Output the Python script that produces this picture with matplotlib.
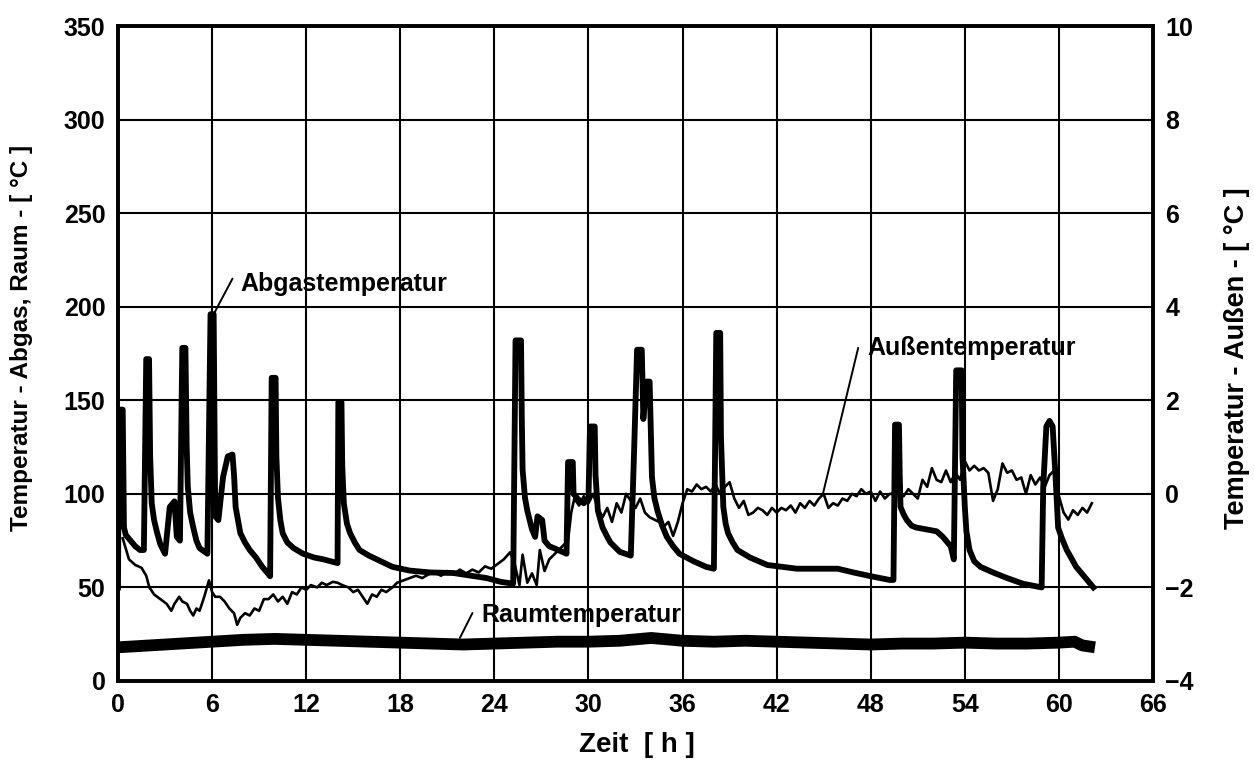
import matplotlib
matplotlib.use("Agg")
import matplotlib.pyplot as plt

plt.rcParams['font.family'] = ['Liberation Sans', 'DejaVu Sans']
plt.rcParams['font.weight'] = 'bold'

# ---------------- data ----------------
abgas_t = [0.0, 0.05, 0.3, 0.38, 0.5, 0.8, 1.1, 1.4, 1.65, 1.8, 1.98,
           2.05, 2.15, 2.3, 2.5, 2.7, 3.0,
           3.3, 3.6, 3.75, 3.95, 4.1, 4.3,
           4.38, 4.45, 4.6, 4.8, 5.0, 5.2, 5.7, 5.9, 6.1,
           6.2, 6.4, 6.7, 7.0, 7.3, 7.4, 7.5, 7.8, 8.1, 8.4, 8.8, 9.2, 9.7, 9.8, 10.05,
           10.1, 10.2, 10.35, 10.5, 10.8, 11.2, 11.8, 12.5, 13.1, 14.0, 14.05, 14.25,
           14.3, 14.4, 14.6, 14.8, 15.1, 15.4, 16.0, 16.5, 17.5, 18.6, 19.9,
           21.4, 23.5, 24.4, 25.2, 25.35, 25.7,
           25.75, 25.8, 25.95, 26.1, 26.4, 26.6, 26.75, 27.05, 27.2, 27.5, 27.8, 28.6,
           28.7, 29.0, 29.05, 29.35, 29.7, 30.0, 30.1, 30.4,
           30.45, 30.6, 30.9, 31.2, 31.4, 32.0, 32.7, 32.9, 33.1, 33.4, 33.5, 33.7, 33.9,
           34.0, 34.05, 34.2, 34.4, 34.7, 35.0, 35.4, 35.8, 36.7, 37.5, 38.0, 38.15, 38.4,
           38.45, 38.6, 38.75, 38.9, 39.2, 39.5, 40.3, 41.4, 43.3, 45.9, 46.9, 48.0, 49.2,
           49.45, 49.55, 49.8,
           49.85, 49.9, 50.1, 50.3, 50.6, 50.9, 52.2, 52.6, 53.1, 53.3, 53.45, 53.8,
           53.85, 54.0, 54.1, 54.3, 54.6, 55.0, 55.8, 56.7, 57.7, 58.9,
           59.0, 59.2, 59.4, 59.6, 59.8, 59.95, 60.2, 60.5, 61.1, 61.8, 62.2]
abgas_v = [50, 145, 145, 82, 78, 75, 72, 70, 70, 172, 172,
           120, 95, 86, 79, 73, 68,
           93, 96, 77, 75, 178, 178,
           125, 104, 90, 82, 75, 71, 68, 196, 196,
           88, 86, 109, 120, 121, 110, 93, 79, 74, 70, 66, 61, 56, 162, 162,
           120, 98, 86, 79, 74, 71, 68, 66, 65, 63, 149, 149,
           115, 95, 84, 79, 74, 70, 67, 65, 61, 59, 58,
           57.7, 55, 53, 52, 182, 182,
           140, 113, 98, 91, 81, 77, 88, 86, 75, 72, 71, 68,
           117, 117, 100, 97, 95, 97, 136, 136,
           110, 91, 82, 77, 74, 69, 67, 120, 177, 177, 140, 160, 160,
           125, 109, 98, 91, 83, 77, 72, 68, 64, 61, 60, 186, 186,
           130, 93, 84, 79, 74, 70, 66, 62, 60, 60, 58, 56, 54,
           54, 137, 137,
           110, 93, 89, 86, 83, 82, 80, 77, 72, 65, 166, 166,
           120, 93, 80, 70, 64, 61, 58, 55, 52, 50,
           104, 136, 139, 136, 107, 82, 76, 70, 61, 54, 50]

aussen_t = [0.3, 0.7, 1.1, 1.5, 1.8, 2.0, 2.3, 2.7, 3.1, 3.4, 3.6, 3.9, 4.1, 4.4, 4.6, 4.8,
            5.0, 5.2, 5.5, 5.8, 6.0, 6.2, 6.5, 6.8, 7.1, 7.4, 7.6, 7.8, 8.1, 8.4, 8.7, 9.0,
            9.3, 9.6, 9.9, 10.2, 10.5, 10.8, 11.1, 11.4, 11.7, 12.0, 12.3, 12.7, 13.0, 13.3,
            13.7, 14.0, 14.3, 14.7, 15.0, 15.3, 15.6, 15.9, 16.2, 16.5, 16.8, 17.1, 17.5,
            17.8, 18.2, 18.6, 19.0, 19.4, 19.8, 20.2, 20.6, 21.0, 21.4, 21.8, 22.2, 22.6,
            23.0, 23.4, 23.8, 24.2, 24.6, 25.0, 25.3, 25.6, 25.8, 26.1, 26.4, 26.7, 26.9,
            27.2, 27.5, 27.8, 28.1, 28.4, 28.7, 28.9, 29.1, 29.4, 29.7, 30.0, 30.3, 30.6,
            30.9, 31.2, 31.5, 31.8, 32.1, 32.4, 32.7, 33.0, 33.3, 33.6, 33.9, 34.2, 34.5,
            34.8, 35.1, 35.4, 35.7, 36.0, 36.3, 36.6, 36.9, 37.2, 37.5, 37.8, 38.1, 38.4,
            38.7, 39.0, 39.3, 39.6, 39.9, 40.2, 40.5, 40.8, 41.1, 41.4, 41.7, 42.0, 42.3,
            42.6, 42.9, 43.2, 43.5, 43.8, 44.1, 44.4, 44.7, 45.0, 45.3, 45.6, 45.9, 46.2,
            46.5, 46.8, 47.1, 47.4, 47.7, 48.0, 48.3, 48.6, 48.9, 49.2, 49.5, 49.8, 50.1,
            50.4, 50.7, 51.0, 51.3, 51.6, 51.9, 52.2, 52.5, 52.8, 53.1, 53.4, 53.7, 54.0,
            54.3, 54.6, 54.9, 55.2, 55.5, 55.8, 56.1, 56.4, 56.7, 57.0, 57.3, 57.6, 57.9,
            58.2, 58.5, 58.8, 59.1, 59.4, 59.7, 60.0, 60.3, 60.6, 60.9, 61.2, 61.5, 61.8, 62.1]
aussen_v = [-0.95, -1.4, -1.52, -1.58, -1.75, -2.0, -2.15, -2.25, -2.35, -2.5, -2.35, -2.2,
            -2.3, -2.35, -2.5, -2.6, -2.45, -2.5, -2.2, -1.85, -2.1, -2.2, -2.2, -2.3, -2.45,
            -2.55, -2.8, -2.65, -2.55, -2.6, -2.45, -2.5, -2.25, -2.25, -2.15, -2.3, -2.2,
            -2.35, -2.1, -2.15, -2.0, -2.05, -1.95, -2.0, -1.9, -1.95, -1.88, -1.9, -1.95,
            -2.0, -2.1, -2.05, -2.2, -2.35, -2.15, -2.2, -2.05, -2.1, -2.0, -1.9, -1.85,
            -1.8, -1.75, -1.8, -1.72, -1.68, -1.75, -1.65, -1.72, -1.62, -1.7, -1.62, -1.68,
            -1.55, -1.6, -1.5, -1.4, -1.25, -1.5, -1.95, -1.3, -1.9, -1.7, -1.95, -1.2,
            -1.65, -1.4, -1.3, -1.2, -1.1, -1.0, -0.4, -0.1, -0.25, -0.05, -0.2, 0.0, -0.3,
            -0.5, -0.3, -0.6, -0.2, -0.4, 0.0, -0.15, -0.3, -0.1, -0.4, -0.5, -0.55, -0.6,
            -0.7, -0.6, -0.9, -0.6, -0.2, 0.1, 0.05, 0.2, 0.1, 0.15, 0.05, 0.2, 0.0,
            0.15, 0.25, -0.1, -0.3, -0.15, -0.45, -0.4, -0.3, -0.35, -0.45, -0.3, -0.4, -0.3,
            -0.35, -0.25, -0.4, -0.2, -0.3, -0.15, -0.25, -0.1, 0.0, -0.3, -0.2, -0.25, -0.1,
            -0.15, 0.0, -0.05, 0.1, 0.0, 0.05, -0.15, 0.05, -0.1, 0.0, 0.0, 0.1, -0.05,
            0.1, 0.0, -0.1, 0.3, 0.15, 0.55, 0.3, 0.25, 0.5, 0.25, 0.45, 0.3, 0.7,
            0.5, 0.6, 0.5, 0.55, 0.45, -0.15, 0.1, 0.65, 0.45, 0.5, 0.3, 0.35, 0.0,
            0.4, 0.2, 0.35, 0.15, 0.4, 0.5, -0.05, -0.4, -0.55, -0.35, -0.45, -0.3, -0.4, -0.2]

raum_t = [0, 2, 4, 6, 8, 10, 12, 14, 16, 18, 20, 22, 24, 26, 28, 30, 32, 34, 36, 38, 40,
          42, 44, 46, 48, 50, 52, 54, 56, 58, 60, 61, 61.5, 62.3]
raum_v = [18, 19, 20, 21, 22, 22.5, 22, 21.5, 21, 20.5, 20, 19.5, 20, 20.5, 21, 21, 21.5,
          23, 21.5, 21, 21.5, 21, 20.5, 20, 19.5, 20, 20, 20.5, 20, 20, 20.5, 21, 19, 18]

x_ticks = list(range(0, 67, 6))
left_ticks = list(range(0, 351, 50))
right_ticks = list(range(-4, 11, 2))

# ---------------- figure ----------------
fig = plt.figure(figsize=(12.54, 7.69), dpi=100)
ax = fig.add_axes([118 / 1254, 1 - 681 / 769, 1035 / 1254, 655 / 769])
ax2 = ax.twinx()

ax.plot(raum_t, raum_v, color='black', lw=8.5, solid_capstyle='butt', zorder=3)
ax.plot(abgas_t, abgas_v, color='black', lw=4.2, zorder=4)
ax2.plot(aussen_t, aussen_v, color='black', lw=1.9, zorder=5)

ax.set_xlim(0, 66)
ax.set_ylim(0, 350)
ax2.set_ylim(-4, 10)
ax.set_xticks(x_ticks)
ax.set_yticks(left_ticks)
ax2.set_yticks(right_ticks)

ax.grid(True, color='black', lw=1.5)
ax.set_axisbelow(True)
for a in (ax, ax2):
    for s in a.spines.values():
        s.set_linewidth(2.6)
    a.tick_params(length=0, labelsize=18, pad=9)
for lab in ax.get_xticklabels() + ax.get_yticklabels() + ax2.get_yticklabels():
    lab.set_fontweight('bold')

fig.text(22 / 1254, 1 - 338 / 769, 'Temperatur - Abgas, Raum - [ °C ]', rotation=90,
         ha='center', va='center', fontsize=17.5, fontweight='bold')
fig.text(1237 / 1254, 1 - 358 / 769, 'Temperatur - Außen - [ °C ]', rotation=90,
         ha='center', va='center', fontsize=19.5, fontweight='bold')
fig.text(637 / 1254, 1 - 745 / 769, 'Zeit  [ h ]', ha='center', va='center',
         fontsize=20, fontweight='bold')

arw = dict(arrowstyle='-', lw=1.4, color='black', shrinkA=0, shrinkB=0)
ax.text(7.8, 212, 'Abgastemperatur', fontsize=18, fontweight='bold',
        va='center', ha='left', zorder=6)
ax.annotate('', xy=(6.1, 196), xytext=(7.3, 215), arrowprops=arw)
ax.text(47.8, 178, 'Außentemperatur', fontsize=18, fontweight='bold',
        va='center', ha='left', zorder=6)
ax.annotate('', xy=(44.95, 100), xytext=(47.2, 178), arrowprops=arw)
ax.text(23.2, 35.3, 'Raumtemperatur', fontsize=18, fontweight='bold',
        va='center', ha='left', zorder=6)
ax.annotate('', xy=(21.8, 23), xytext=(22.6, 36.3), arrowprops=arw)

fig.savefig('out.png', dpi=100)
